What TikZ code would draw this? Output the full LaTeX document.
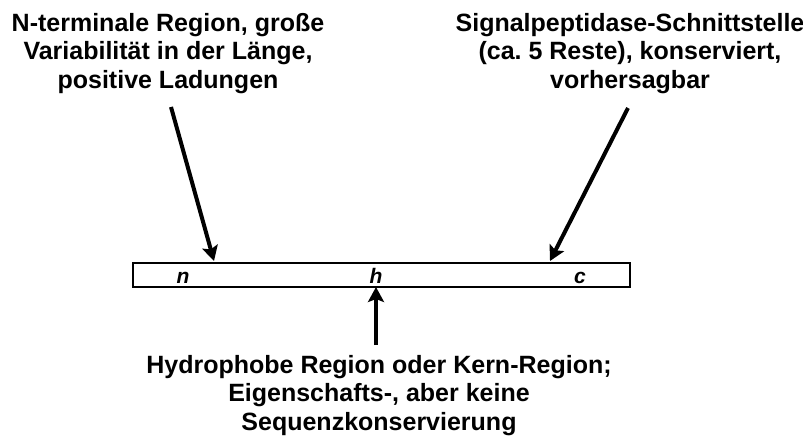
\documentclass[tikz,border=0pt]{standalone}
\usepackage{fontspec}
\setmainfont{Liberation Sans}
\usetikzlibrary{arrows.meta, positioning}
\frenchspacing

\begin{document}
\begin{tikzpicture}[
    x=1pt, y=-1pt,
    note/.style={align=center, inner sep=0pt, anchor=base, font=\fontsize{25}{28.5}\selectfont\bfseries},
    region/.style={font=\fontsize{21}{24}\selectfont\bfseries\itshape, inner sep=0pt, anchor=base},
    bar/.style={draw, line width=2.6pt, minimum width=497pt, minimum height=24pt, inner sep=0pt},
    arr/.style={-{Stealth[length=15pt, width=16pt, inset=3pt]}, line width=4pt}
]
\useasboundingbox (0,0) rectangle (803,437);

% Signal peptide bar
\node[bar] (sp) at (381.5,275) {};
\node[region] (n) at (183,283) {n};
\node[region] (h) at (376,283) {h};
\node[region] (c) at (580,283) {c};

% Descriptions (base = last line)
\node[note] (nnote) at (168,88) {N-terminale Region, große\\Variabilität in der Länge,\\positive Ladungen};
\node[note] (cnote) at (630,88) {Signalpeptidase-Schnittstelle\\(ca. 5 Reste), konserviert,\\vorhersagbar};
\node[note] (hnote) at (379,430) {Hydrophobe Region oder Kern-Region;\\Eigenschafts-, aber keine\\Sequenzkonservierung};

% Arrows
\coordinate (nfrom) at (171,107);
\coordinate (nto) at (214,261);
\coordinate (cfrom) at (628,108);
\coordinate (cto) at (550,261);
\coordinate (hfrom) at (376,345);
\coordinate (hto) at (376,287);
\draw[arr] (nfrom)--(nto);
\draw[arr] (cfrom)--(cto);
\draw[arr] (hfrom)--(hto);

\end{tikzpicture}
\end{document}
